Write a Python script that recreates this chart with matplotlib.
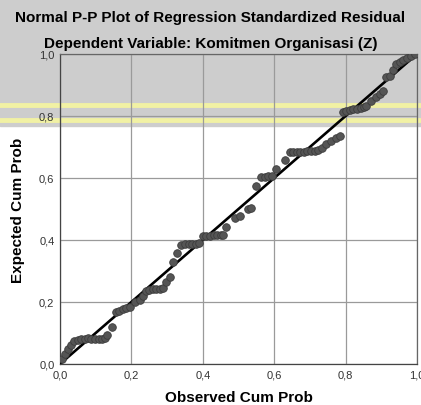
import numpy as np
import matplotlib
matplotlib.use("Agg")
import matplotlib.pyplot as plt
from matplotlib.patches import Rectangle
from matplotlib.lines import Line2D

# observed / expected cumulative probabilities
observed = [0.005, 0.013, 0.022, 0.031,
            0.040, 0.050, 0.060, 0.070, 0.078,
            0.088, 0.098, 0.108, 0.118, 0.126,
            0.133, 0.145,
            0.157, 0.166, 0.176, 0.186, 0.196,
            0.209, 0.223, 0.232,
            0.240, 0.250, 0.260, 0.270, 0.280, 0.288,
            0.297, 0.307, 0.316, 0.327,
            0.340, 0.350, 0.360, 0.370, 0.380, 0.388,
            0.400, 0.410, 0.420, 0.430, 0.440, 0.450, 0.456,
            0.466, 0.489, 0.503, 0.526, 0.535, 0.550,
            0.563, 0.573, 0.583, 0.593,
            0.606, 0.629,
            0.643, 0.653, 0.663, 0.673, 0.683, 0.693, 0.703, 0.713, 0.722, 0.733,
            0.746, 0.760, 0.772, 0.783,
            0.792, 0.802, 0.812, 0.822, 0.832, 0.842, 0.852, 0.858,
            0.872, 0.885, 0.895, 0.904, 0.914, 0.923, 0.932, 0.942,
            0.951, 0.960, 0.972, 0.984, 0.993]
expected = [0.015, 0.032, 0.048, 0.061,
            0.075, 0.078, 0.080, 0.082, 0.084,
            0.082, 0.082, 0.082, 0.082, 0.083,
            0.093, 0.118,
            0.167, 0.172, 0.177, 0.181, 0.184,
            0.200, 0.206, 0.220,
            0.236, 0.240, 0.241, 0.242, 0.243, 0.244,
            0.263, 0.280, 0.330, 0.358,
            0.384, 0.387, 0.387, 0.388, 0.388, 0.389,
            0.412, 0.414, 0.414, 0.415, 0.415, 0.416, 0.417,
            0.441, 0.470, 0.476, 0.500, 0.503, 0.575,
            0.602, 0.604, 0.605, 0.607,
            0.629, 0.659,
            0.683, 0.684, 0.684, 0.685, 0.685, 0.686, 0.686, 0.687, 0.690, 0.697,
            0.710, 0.720, 0.728, 0.736,
            0.812, 0.815, 0.818, 0.821, 0.824, 0.827, 0.830, 0.833,
            0.849, 0.862, 0.871, 0.882, 0.925, 0.930, 0.950, 0.968,
            0.975, 0.982, 0.988, 0.995, 1.000]

ticks = [0.0, 0.2, 0.4, 0.6, 0.8, 1.0]
tick_labels = ["0,0", "0,2", "0,4", "0,6", "0,8", "1,0"]

plt.rcParams["font.family"] = ["Liberation Sans", "DejaVu Sans"]

W, H = 421, 406
fig = plt.figure(figsize=(W / 100, H / 100), dpi=100)
fig.patch.set_facecolor("white")

# watermark band behind the top of the chart
fig.patches.append(Rectangle((0, 1 - 127 / H), 1, 127 / H, transform=fig.transFigure,
                             color="#cdcdcd", zorder=0))
for yy in (106, 121):
    fig.lines.append(Line2D([0, 1], [1 - yy / H, 1 - yy / H], transform=fig.transFigure,
                            color="#f1f1a4", lw=3.5, zorder=1))

ax = fig.add_axes([60 / W, 1 - 365 / H, 357 / W, 310 / H])
ax.set_zorder(2)
ax.set_facecolor("none")

ax.plot([0, 1], [0, 1], color="black", lw=1.9, zorder=3)
ax.scatter(observed, expected, s=30, color="#555555", edgecolor="#3c3c3c",
           linewidth=0.6, zorder=4)

ax.set_xlim(0, 1)
ax.set_ylim(0, 1)
ax.set_xticks(ticks)
ax.set_yticks(ticks)
ax.set_xticklabels(tick_labels)
ax.set_yticklabels(tick_labels)
ax.tick_params(length=0, labelsize=8, colors="#333333", pad=4)
ax.grid(True, color="#9a9a9a", lw=0.9)
ax.set_axisbelow(True)
for s in ax.spines.values():
    s.set_color("#666666")
    s.set_linewidth(0.9)
ax.spines["left"].set_color("#444444")
ax.spines["bottom"].set_color("#444444")

fig.text(210 / W, 1 - 18 / H, "Normal P-P Plot of Regression Standardized Residual",
         ha="center", va="center", fontsize=11, fontweight="bold", zorder=3)
fig.text(211 / W, 1 - 44 / H, "Dependent Variable: Komitmen Organisasi (Z)",
         ha="center", va="center", fontsize=11, fontweight="bold", zorder=3)
fig.text(239 / W, 1 - 398 / H, "Observed Cum Prob", ha="center", va="center",
         fontsize=11, fontweight="bold")
fig.text(18 / W, 1 - 210 / H, "Expected Cum Prob", ha="center", va="center",
         rotation=90, fontsize=11, fontweight="bold")

fig.savefig("out.png", dpi=100)
